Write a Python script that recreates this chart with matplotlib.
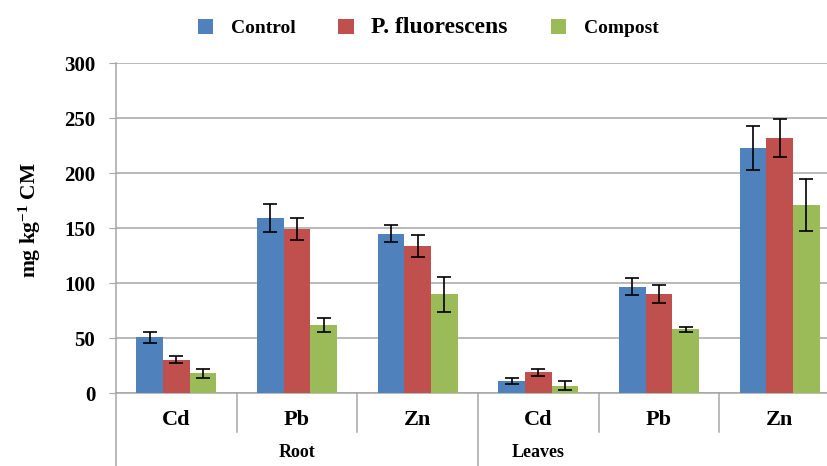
import matplotlib
matplotlib.use("Agg")
import matplotlib.pyplot as plt
import numpy as np

plt.rcParams['font.family'] = ['Liberation Serif', 'DejaVu Serif']
plt.rcParams['font.weight'] = 'bold'
plt.rcParams['mathtext.fontset'] = 'custom'
plt.rcParams['mathtext.rm'] = 'Liberation Serif:bold'
plt.rcParams['mathtext.it'] = 'Liberation Serif:bold'
plt.rcParams['mathtext.bf'] = 'Liberation Serif:bold'

# data
metals = ['Cd', 'Pb', 'Zn', 'Cd', 'Pb', 'Zn']
organs = ['Root', 'Leaves']
series = ['Control', 'P. fluorescens', 'Compost']
control = [51, 159, 145, 11, 97, 223]
control_err = [5, 12.5, 8, 2.5, 8, 20]
pfluo = [30.5, 149, 134, 19, 90, 232]
pfluo_err = [3, 10, 10, 3, 8, 17]
compost = [18, 62, 90, 7, 58, 171]
compost_err = [4, 6, 16, 4, 2.5, 23.5]

colors = ['#4F81BD', '#C0504D', '#9BBB59']
grid_c = '#a6a6a6'

fig = plt.figure(figsize=(8.28, 4.66), dpi=100)
ax = fig.add_axes([0.1401, 0.156, 0.8744, 0.7088])

x = np.arange(len(metals))
w = 0.221
vals = [control, pfluo, compost]
errs = [control_err, pfluo_err, compost_err]
for i in range(3):
    ax.bar(x + (i - 1) * w, vals[i], w, color=colors[i], label=series[i],
           yerr=errs[i], capsize=5,
           error_kw=dict(elinewidth=1.2, capthick=1.2, ecolor='black'),
           zorder=3)

ax.set_xlim(-0.5, 5.5)
ax.set_ylim(0, 300)
ax.set_yticks(range(0, 301, 50))
ax.yaxis.grid(True, color=grid_c, linewidth=1.1, zorder=0)
ax.tick_params(axis='y', labelsize=15, length=5, color=grid_c, pad=10)
ax.tick_params(axis='x', length=0, labelbottom=False)
for s in ['top', 'right']:
    ax.spines[s].set_visible(False)
for s in ['left', 'bottom']:
    ax.spines[s].set_color(grid_c)
    ax.spines[s].set_linewidth(1.1)
for lab in ax.get_yticklabels():
    lab.set_fontweight('bold')

ax.set_ylabel('mg kg$^{-1}$ CM', fontsize=15.5, fontweight='bold')
ax.yaxis.set_label_coords(-0.101, 0.525)

# category labels and separators under the axis
trans = ax.get_xaxis_transform()
for i, m in enumerate(metals):
    ax.text(x[i], -0.082, m, transform=trans, ha='center', va='center',
            fontsize=16, fontweight='bold')
for b in np.arange(-0.5, 6.0, 1.0):
    low = -0.221 if b in (-0.5, 2.5) else -0.118
    ax.plot([b, b], [0, low], transform=trans, color=grid_c, lw=1.1,
            clip_on=False)
ax.text(1.0, -0.18, organs[0], transform=trans, ha='center', va='center',
        fontsize=13, fontweight='bold')
ax.text(3.0, -0.18, organs[1], transform=trans, ha='center', va='center',
        fontsize=13, fontweight='bold')

leg = fig.legend(loc='center', bbox_to_anchor=(0.517, 0.94), ncol=3,
                 frameon=False, handlelength=0.8, handleheight=0.8,
                 handletextpad=0.9, columnspacing=2.2,
                 prop={'weight': 'bold', 'size': 14})
leg.get_texts()[1].set_fontsize(17)

fig.savefig('out.png', dpi=100)
